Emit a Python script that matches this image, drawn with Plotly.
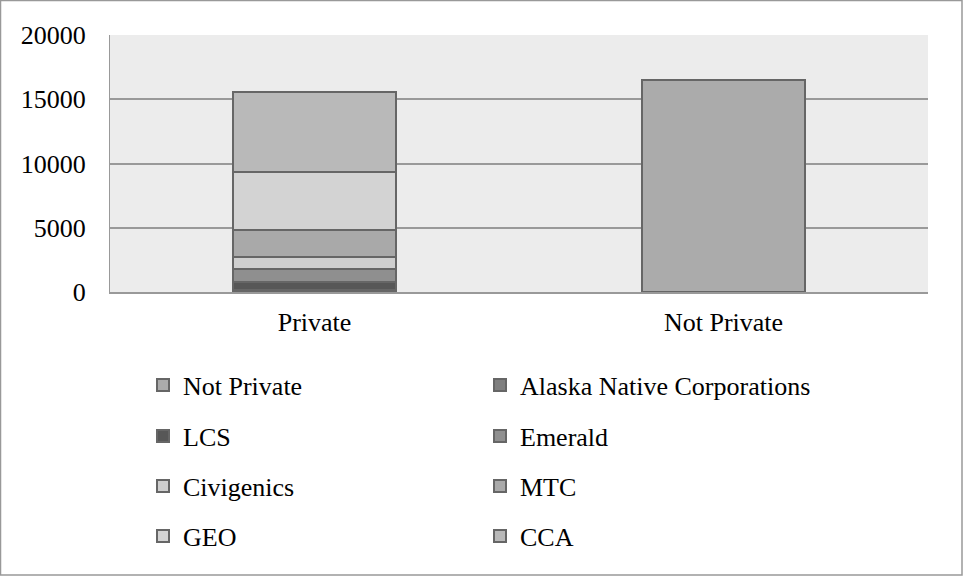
import plotly.graph_objects as go

categories = ["Private", "Not Private"]
series_names = ["Not Private", "Alaska Native Corporations", "LCS", "Emerald",
                "Civigenics", "MTC", "GEO", "CCA"]
not_private = [0, 16500]
alaska = [150, 0]
lcs = [630, 0]
emerald = [1010, 0]
civigenics = [960, 0]
mtc = [2100, 0]
geo = [4470, 0]
cca = [6220, 0]
y_ticks = [0, 5000, 10000, 15000, 20000]

values = [not_private, alaska, lcs, emerald, civigenics, mtc, geo, cca]
colors = ["#ababab", "#7f7f7f", "#575757", "#8f8f8f", "#cfcfcf", "#a9a9a9", "#d3d3d3", "#b9b9b9"]
legend_ids = ["legend", "legend", "legend2", "legend2", "legend3", "legend3", "legend4", "legend4"]

FONT = "Liberation Serif"
W, H = 963, 576
ML, MR, MT, MB = 110, 35, 35, 284

fig = go.Figure()
for name, vals, col, lg in zip(series_names, values, colors, legend_ids):
    fig.add_trace(go.Bar(
        x=categories, y=vals, name=name, legend=lg,
        marker=dict(color=col, line=dict(color="#666666", width=2)),
    ))

row_centers = [385, 436, 486, 536]
legend_common = dict(orientation="h", xref="container", yref="container",
                     x=143 / W, xanchor="left", yanchor="middle",
                     traceorder="normal",
                     entrywidth=292, entrywidthmode="pixels",
                     font=dict(family=FONT, size=26, color="#000000"),
                     bgcolor="rgba(0,0,0,0)", itemclick=False, itemdoubleclick=False)
legs = {}
for i, key in enumerate(["legend", "legend2", "legend3", "legend4"]):
    legs[key] = dict(legend_common, y=1 - row_centers[i] / H)

pw = W - ML - MR
ph = H - MT - MB
def px_x(px):
    return (px - ML) / pw
def px_y(py):
    return (H - MB - py) / ph

fig.update_layout(
    width=W, height=H,
    margin=dict(l=ML, r=MR, t=MT, b=MB),
    barmode="stack", bargap=0.6,
    paper_bgcolor="white", plot_bgcolor="#ececec",
    font=dict(family=FONT, size=26, color="#000000"),
    showlegend=True,
    xaxis=dict(showgrid=False, showline=True, linecolor="#999999", linewidth=2,
               ticks="outside", ticklen=6, tickcolor="rgba(0,0,0,0)",
               tickfont=dict(family=FONT, size=26)),
    yaxis=dict(range=[0, 20000], tickvals=y_ticks, tickformat="d", showgrid=True,
               gridcolor="#999999", gridwidth=2, showline=True, linecolor="#999999",
               linewidth=1, zeroline=False,
               ticks="outside", ticklen=18, tickcolor="rgba(0,0,0,0)",
               tickfont=dict(family=FONT, size=26)),
    shapes=[dict(type="rect", xref="paper", yref="paper",
                 x0=px_x(0.5), x1=px_x(962), y0=px_y(575), y1=px_y(0.5),
                 line=dict(color="#999999", width=1.5), layer="below")],
    **legs,
)

fig.write_html("out.html", config={"displayModeBar": False},
               post_script="document.body.style.margin='0';document.body.style.overflow='hidden';")
